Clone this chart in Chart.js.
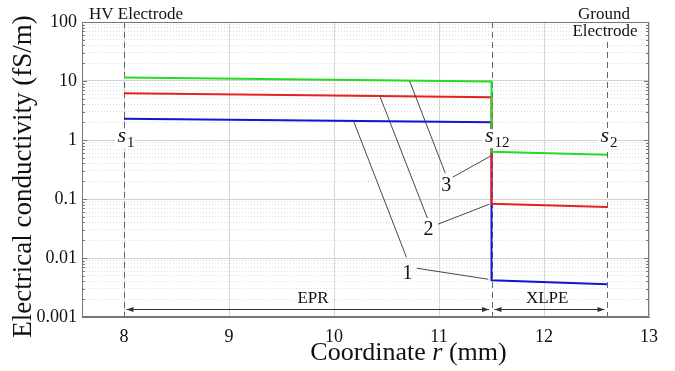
<!DOCTYPE html>
<html><head><meta charset="utf-8">
<script src="https://cdn.jsdelivr.net/npm/chart.js@4.4.0/dist/chart.umd.min.js"></script>
<style>html,body{margin:0;padding:0;background:#fff;}#wrap{width:675px;height:371px;}</style>
</head><body><div id="wrap"><canvas id="c" width="675" height="371"></canvas></div>
<script>
// ---- data ----
const xTickValues = [8, 9, 10, 11, 12, 13];
const yTickValues = [0.001, 0.01, 0.1, 1, 10, 100];
const yTickLabels = ['0.001', '0.01', '0.1', '1', '10', '100'];
const coordR = [8, 11.5, 11.5, 12.6];
const valuesCurve3 = [11.5, 9.8, 0.63, 0.565];   // green
const valuesCurve2 = [6.2, 5.3, 0.083, 0.073];   // red
const valuesCurve1 = [2.3, 2.0, 0.0042, 0.0036]; // blue
const boundaries = [8, 11.5, 12.6];
const boundaryMain = ['s', 's', 's'];
const boundarySub = ['1', '12', '2'];
const boundaryLabelY = 0.92;
const regionNames = ['EPR', 'XLPE'];
const regionCenters = [9.8, 12.03];
const regionLabelY = 0.00205;
const regionArrowY = 0.00137;
const curveLabels = ['1', '2', '3'];
const curveLabelX = [10.7, 10.9, 11.07];
const curveLabelY = [0.0055, 0.0296, 0.171];
const leadersUp = [[[10.69, 0.0103], [10.19, 2.01]], [[10.89, 0.0473], [10.44, 5.34]], [[11.06, 0.274], [10.72, 10.0]]];
const leadersRight = [[[10.79, 0.0067], [11.47, 0.00436]], [[10.99, 0.0374], [11.48, 0.0817]], [[11.13, 0.234], [11.49, 0.533]]];
const xTitleParts = ['Coordinate ', 'r', ' (mm)'];
const yTitle = 'Electrical conductivity (fS/m)';
const topLeftText = 'HV Electrode';
const topRightText = ['Ground', 'Electrode'];

const SERIF = '"Liberation Serif", "Times New Roman", serif';
const isMajor = v => Math.abs(Math.log10(v) - Math.round(Math.log10(v))) < 1e-6;
const pts = vals => coordR.map((x, i) => ({x: x, y: vals[i]}));

const deco = {
  id: 'deco',
  beforeDatasetsDraw(chart) {
    const {ctx, chartArea: a, scales: {x}} = chart;
    ctx.save();
    ctx.strokeStyle = '#666'; ctx.lineWidth = 1; ctx.setLineDash([6, 4]);
    boundaries.forEach(b => {
      const px = Math.round(x.getPixelForValue(b)) + 0.5;
      ctx.beginPath(); ctx.moveTo(px, a.top); ctx.lineTo(px, a.bottom); ctx.stroke();
    });
    ctx.restore();
  },
  afterDatasetsDraw(chart) {
    const {ctx, chartArea: a, scales: {x, y}} = chart;
    const X = v => x.getPixelForValue(v), Y = v => y.getPixelForValue(v);
    ctx.save();
    // frame
    ctx.strokeStyle = '#777'; ctx.lineWidth = 1;
    ctx.strokeRect(a.left + 0.5, a.top + 0.5, a.right - a.left - 1, a.bottom - a.top - 1);
    // inward y ticks both sides
    y.ticks.forEach(t => {
      const py = Math.round(Y(t.value)) + 0.5;
      const len = isMajor(t.value) ? 5 : 3;
      ctx.beginPath();
      ctx.moveTo(a.left, py); ctx.lineTo(a.left + len, py);
      ctx.moveTo(a.right, py); ctx.lineTo(a.right - len, py);
      ctx.stroke();
    });
    // region arrows
    ctx.strokeStyle = '#333'; ctx.fillStyle = '#333';
    const ay = Math.round(Y(regionArrowY)) + 0.5;
    const arrow = (x1, x2) => {
      ctx.beginPath(); ctx.moveTo(x1, ay); ctx.lineTo(x2, ay); ctx.stroke();
      ctx.beginPath(); ctx.moveTo(x1, ay); ctx.lineTo(x1 + 7, ay - 2.5); ctx.lineTo(x1 + 7, ay + 2.5); ctx.closePath(); ctx.fill();
      ctx.beginPath(); ctx.moveTo(x2, ay); ctx.lineTo(x2 - 7, ay - 2.5); ctx.lineTo(x2 - 7, ay + 2.5); ctx.closePath(); ctx.fill();
    };
    arrow(X(boundaries[0]) + 2.5, X(boundaries[1]) - 2.5);
    arrow(X(boundaries[1]) + 3, X(boundaries[2]) - 2.5);
    ctx.fillStyle = '#111';
    ctx.font = '17px ' + SERIF; ctx.textAlign = 'center'; ctx.textBaseline = 'middle';
    regionNames.forEach((n, i) => ctx.fillText(n, X(regionCenters[i]), Y(regionLabelY)));
    // leader lines
    ctx.strokeStyle = '#333'; ctx.lineWidth = 0.9;
    [...leadersUp, ...leadersRight].forEach(l => {
      ctx.beginPath(); ctx.moveTo(X(l[0][0]), Y(l[0][1])); ctx.lineTo(X(l[1][0]), Y(l[1][1])); ctx.stroke();
    });
    ctx.font = '20px ' + SERIF; ctx.fillStyle = '#111';
    curveLabels.forEach((c, i) => ctx.fillText(c, X(curveLabelX[i]), Y(curveLabelY[i])));
    // boundary labels s1, s12, s2
    boundaries.forEach((b, i) => {
      const px = X(b), by = Y(boundaryLabelY);
      ctx.font = '15px ' + SERIF;
      const sw = ctx.measureText(boundarySub[i]).width;
      ctx.fillStyle = '#fff';
      ctx.fillRect(px - 9, by - 13, 12 + sw, 19);
      ctx.fillStyle = '#111';
      ctx.font = 'italic 22px ' + SERIF; ctx.textAlign = 'right'; ctx.textBaseline = 'alphabetic';
      ctx.fillText(boundaryMain[i], px + 2, by);
      ctx.font = '15px ' + SERIF; ctx.textAlign = 'left';
      ctx.fillText(boundarySub[i], px + 3, by + 5);
    });
    // top texts
    ctx.textAlign = 'center'; ctx.textBaseline = 'middle'; ctx.font = '17px ' + SERIF;
    ctx.fillText(topLeftText, X(boundaries[0]) + 12, 15);
    const gx = X(boundaries[2]) - 2;
    ctx.fillText(topRightText[0], gx - 1, 15);
    const ew = ctx.measureText(topRightText[1]).width;
    ctx.fillStyle = '#fff'; ctx.fillRect(gx - ew / 2 - 1, a.top + 1, ew + 2, 18);
    ctx.fillStyle = '#111';
    ctx.fillText(topRightText[1], gx, 32);
    // x title
    ctx.font = '26px ' + SERIF;
    const w0 = ctx.measureText(xTitleParts[0]).width, w2 = ctx.measureText(xTitleParts[2]).width;
    ctx.font = 'italic 26px ' + SERIF;
    const w1 = ctx.measureText(xTitleParts[1]).width;
    let sx = 408.5 - (w0 + w1 + w2) / 2;
    ctx.textAlign = 'left';
    ctx.font = '26px ' + SERIF; ctx.fillText(xTitleParts[0], sx, 353);
    ctx.font = 'italic 26px ' + SERIF; ctx.fillText(xTitleParts[1], sx + w0, 353);
    ctx.font = '26px ' + SERIF; ctx.fillText(xTitleParts[2], sx + w0 + w1, 353);
    // y title
    ctx.translate(24, 176.5); ctx.rotate(-Math.PI / 2);
    ctx.textAlign = 'center'; ctx.font = '27px ' + SERIF;
    ctx.fillText(yTitle, 0, 0);
    ctx.restore();
  }
};

new Chart(document.getElementById('c'), {
  type: 'line',
  data: {
    datasets: [
      {label: '3', data: pts(valuesCurve3), borderColor: '#22dd22'},
      {label: '2', data: pts(valuesCurve2), borderColor: '#e82020'},
      {label: '1', data: pts(valuesCurve1), borderColor: '#1414d2'}
    ].map(d => Object.assign(d, {borderWidth: 2, pointRadius: 0, fill: false, tension: 0}))
  },
  options: {
    responsive: false, animation: false,
    layout: {padding: {top: 22, right: 26, left: 0, bottom: 0}},
    plugins: {legend: {display: false}, tooltip: {enabled: false}},
    scales: {
      x: {
        type: 'linear', min: 7.6, max: 13,
        afterBuildTicks: s => { s.ticks = xTickValues.map(v => ({value: v})); },
        afterFit: s => { s.height = 54; },
        ticks: {autoSkip: false, padding: 9, color: '#111', font: {family: SERIF, size: 18}, maxRotation: 0,
          callback: v => String(v)},
        grid: {color: '#d6d6d6', drawTicks: false},
        border: {color: '#777'}
      },
      y: {
        type: 'logarithmic', min: 0.001, max: 100,
        afterBuildTicks: s => {
          const t = [];
          for (let e = -3; e <= 2; e++) for (let m = 1; m <= 9; m++) {
            const v = +(m * Math.pow(10, e)).toPrecision(6);
            if (v > 100.0001) break;
            t.push({value: v});
          }
          s.ticks = t;
        },
        afterFit: s => { s.width = 82; },
        ticks: {autoSkip: false, padding: 5, color: '#111', font: {family: SERIF, size: 18},
          callback: v => { const i = yTickValues.findIndex(t => Math.abs(t - v) / t < 1e-6); return i >= 0 ? yTickLabels[i] : ''; }},
        grid: {drawTicks: false, color: c => (c.tick && isMajor(c.tick.value)) ? '#d2d2d2' : '#dcdcdc'},
        border: {color: '#777', dash: c => (c.tick && !isMajor(c.tick.value)) ? [1, 2] : []}
      }
    }
  },
  plugins: [deco]
});
</script>
</body></html>
